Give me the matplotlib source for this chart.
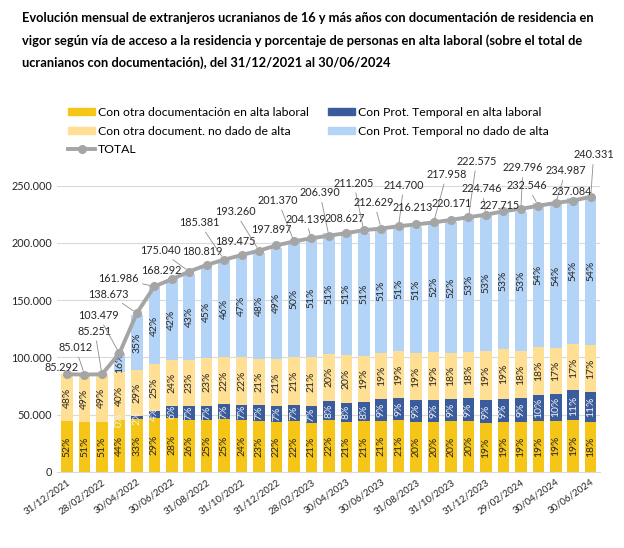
import numpy as np
import matplotlib
matplotlib.use("Agg")
import matplotlib.pyplot as plt
from matplotlib.patches import Patch
from matplotlib.lines import Line2D

plt.rcParams['font.family'] = ['Lato', 'DejaVu Sans']

# data
fechas = ["31/12/2021", "31/01/2022", "28/02/2022", "31/03/2022", "30/04/2022", "31/05/2022",
          "30/06/2022", "31/07/2022", "31/08/2022", "30/09/2022", "31/10/2022", "30/11/2022",
          "31/12/2022", "31/01/2023", "28/02/2023", "31/03/2023", "30/04/2023", "31/05/2023",
          "30/06/2023", "31/07/2023", "31/08/2023", "30/09/2023", "31/10/2023", "30/11/2023",
          "31/12/2023", "31/01/2024", "29/02/2024", "31/03/2024", "30/04/2024", "31/05/2024",
          "30/06/2024"]
total = [85292, 85012, 85251, 103479, 138673, 161986, 168292, 175040, 180819, 185381,
         189475, 193260, 197897, 201370, 204139, 206390, 208627, 211205, 212629, 214700,
         216213, 217958, 220171, 222575, 224746, 227715, 229796, 232546, 234987, 237084,
         240331]
pct_otra_alta = [52, 51, 51, 44, 33, 29, 28, 26, 25, 25, 24, 23, 22, 22, 21, 22, 21, 21, 21,
                 21, 20, 20, 20, 20, 19, 19, 19, 19, 19, 19, 18]
pct_prot_alta = [0, 0, 0, 0, 2, 4, 6, 7, 7, 7, 7, 7, 7, 7, 7, 8, 8, 8, 9, 9, 9, 9, 9, 9, 9,
                 9, 9, 10, 10, 11, 11]
pct_otra_no = [48, 49, 49, 40, 29, 25, 24, 23, 23, 22, 22, 21, 21, 21, 21, 20, 20, 19, 19, 19,
               19, 19, 18, 18, 19, 19, 18, 18, 17, 17, 17]
pct_prot_no = [0, 0, 0, 16, 35, 42, 42, 43, 45, 46, 47, 48, 49, 50, 51, 51, 51, 51, 51, 51,
               51, 52, 52, 53, 53, 53, 53, 54, 54, 54, 54]

series = [
    ("Con otra documentación en alta laboral", pct_otra_alta, "#F5C518", "#262626"),
    ("Con Prot. Temporal en alta laboral", pct_prot_alta, "#3A5C9C", "#F2F2F2"),
    ("Con otra document. no dado de alta", pct_otra_no, "#FFDF94", "#262626"),
    ("Con Prot. Temporal no dado de alta", pct_prot_no, "#B3D3F7", "#262626"),
]

# label offsets (pixels) for the total labels
lab_off = [(-5, 7), (-9, 27), (-7, 43), (-21, 38), (-28, 19), (-36, 8), (-10, 9), (-29, 21),
           (-4, 13), (-25, 37), (-6, 14), (-24, 39), (-5, 16), (-16, 41), (-6, 19), (-9, 43),
           (-2, 15), (-10, 47), (-7, 26), (5, 41), (-3, 17), (13, 48), (1, 16), (8, 56),
           (-4, 26), (-4, 6), (2, 41), (-11, 20), (10, 32), (-1, 9), (3, 42)]

x = np.arange(len(total))
tot = np.array(total, dtype=float)
prot_exists = np.array(pct_prot_no) + np.array(pct_prot_alta) > 0

fig = plt.figure(figsize=(6.24, 5.48), dpi=100)
ax = fig.add_axes([0.092, 0.139, 0.870, 0.522])

bottom = np.zeros(len(x))
for k, (name, pct, col, tcol) in enumerate(series):
    vals = tot * np.array(pct) / 100
    ax.bar(x, vals, 0.66, bottom=bottom, color=col, zorder=2)
    for i in range(len(x)):
        if k in (1, 3) and not prot_exists[i]:
            continue
        ax.text(x[i], bottom[i] + vals[i] / 2, f"{pct[i]}%", rotation=90, ha="center",
                va="center", fontsize=7.5, color=tcol, zorder=3)
    bottom += vals

ax.plot(x, tot, color="#A5A5A5", lw=2.8, marker="o", ms=5.5, zorder=4)

for i in range(len(x)):
    dx, dy = lab_off[i]
    far = dy > 18 or abs(dx) > 20
    ax.annotate(f"{total[i]:,}".replace(",", "."), (x[i], tot[i]), xytext=(dx, dy),
                textcoords="offset pixels", ha="center", va="center", fontsize=7.8,
                color="#262626", zorder=5, annotation_clip=False,
                arrowprops=dict(arrowstyle="-", color="#8C8C8C", lw=0.6, shrinkA=1, shrinkB=3)
                if far else None)

ax.set_ylim(0, 250000)
ax.set_xlim(-0.55, len(x) - 0.45)
yt = np.arange(0, 250001, 50000)
ax.set_yticks(yt)
ax.set_yticklabels([f"{v:,}".replace(",", ".") for v in yt], fontsize=7.8, color="#262626")
ax.grid(axis="y", color="#D9D9D9", lw=0.8, zorder=0)
ax.set_axisbelow(True)
for s in ["top", "right", "left"]:
    ax.spines[s].set_visible(False)
ax.spines["bottom"].set_color("#D9D9D9")
ax.tick_params(axis="both", length=0, pad=4)
ax.set_xticks(x[::2])
ax.set_xticklabels(fechas[::2], rotation=35, ha="right", rotation_mode="anchor",
                   fontsize=7, color="#262626")

# title
title = ["Evolución mensual de extranjeros ucranianos de 16 y más años con documentación de residencia en",
         "vigor según vía de acceso a la residencia y porcentaje de personas en alta laboral (sobre el total de",
         "ucranianos con documentación), del 31/12/2021 al 30/06/2024"]
for j, line in enumerate(title):
    fig.text(22 / 624, 1 - (18 + 22.5 * j) / 548, line, fontsize=9.3, fontweight="bold",
             ha="left", va="center", color="#000000")

handles = [Patch(color=series[0][2]), Patch(color=series[2][2]),
           Line2D([], [], color="#A5A5A5", lw=2.8, marker="o", ms=5.5),
           Patch(color=series[1][2]), Patch(color=series[3][2])]
labels = [series[0][0], series[2][0], "TOTAL", series[1][0], series[3][0]]
fig.legend(handles, labels, ncol=2, loc="upper left", bbox_to_anchor=(62 / 624, 1 - 101 / 548),
           frameon=False, fontsize=8.8, handlelength=2.2, handleheight=0.55,
           handletextpad=0.25, columnspacing=1.6, labelspacing=0.62, borderpad=0)

fig.savefig("out.png", dpi=100, facecolor="white")
